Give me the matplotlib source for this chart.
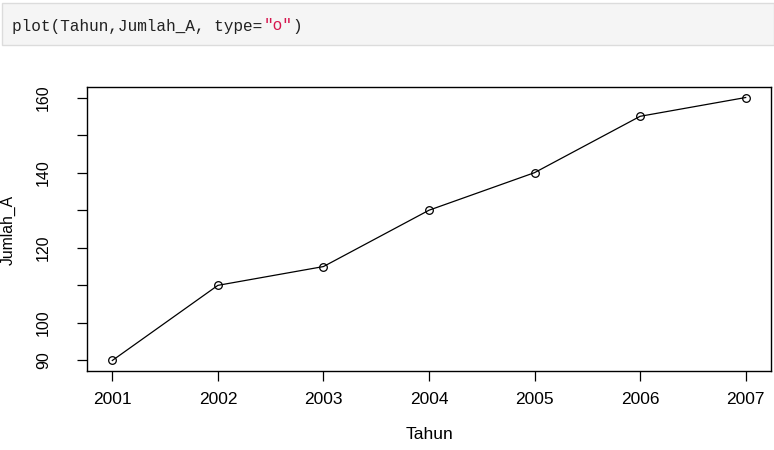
import matplotlib
matplotlib.use("Agg")
import matplotlib.pyplot as plt
from matplotlib.patches import Rectangle

# data
tahun = [2001, 2002, 2003, 2004, 2005, 2006, 2007]
jumlah_a = [90, 110, 115, 130, 140, 155, 160]
y_ticks = [90, 100, 110, 120, 130, 140, 150, 160]
y_labels = ["90", "100", "", "120", "", "140", "", "160"]

code_parts = [('plot(Tahun,Jumlah_A, type=', '#222222'),
              ('"o"', '#d6164e'),
              (')', '#222222')]

plt.rcParams['font.family'] = ['Liberation Sans', 'DejaVu Sans']

W, H, DPI = 774, 450, 100
fig = plt.figure(figsize=(W / DPI, H / DPI), dpi=DPI)
fig.patch.set_facecolor('white')

# code cell on top
fig.patches.append(Rectangle((2 / W, 1 - 45 / H), 772 / W, 42 / H,
                             transform=fig.transFigure, facecolor='#f5f5f5',
                             edgecolor='#dcdcdc', linewidth=1.0))
mono_size = 11.6
char_w = 0.6 * mono_size * DPI / 72  # monospace advance in px
x = 12
for txt, col in code_parts:
    fig.text(x / W, 1 - 26 / H, txt, color=col, family='Liberation Mono',
             fontsize=mono_size, va='center', ha='left')
    x += len(txt) * char_w

ax = fig.add_axes([87 / W, 1 - 371 / H, 684 / W, 284 / H])
ax.plot(tahun, jumlah_a, color='black', linewidth=0.9,
        marker='o', markersize=5.5, markerfacecolor='none',
        markeredgecolor='black', markeredgewidth=0.9)

ax.set_xlim(2000.76, 2007.24)
ax.set_ylim(87.2, 162.8)
ax.set_xticks(tahun)
ax.set_xticklabels([str(t) for t in tahun], fontsize=12.5)
ax.set_yticks(y_ticks)
ax.set_yticklabels(y_labels, fontsize=11.5, rotation=90, va='center')

for s in ax.spines.values():
    s.set_linewidth(1.0)
    s.set_color('black')
ax.tick_params(axis='x', length=7, width=0.9, pad=8)
ax.tick_params(axis='y', length=7, width=0.9, pad=19)

ax.set_xlabel('Tahun', fontsize=12.5)
ax.xaxis.set_label_coords(0.501, -0.225)
ax.xaxis.label.set_va('center')
ax.set_ylabel('Jumlah_A', fontsize=11.3)
ax.yaxis.set_label_coords(-0.1155, 0.496)
ax.yaxis.label.set_va('center')

fig.savefig('out.png', dpi=DPI)
